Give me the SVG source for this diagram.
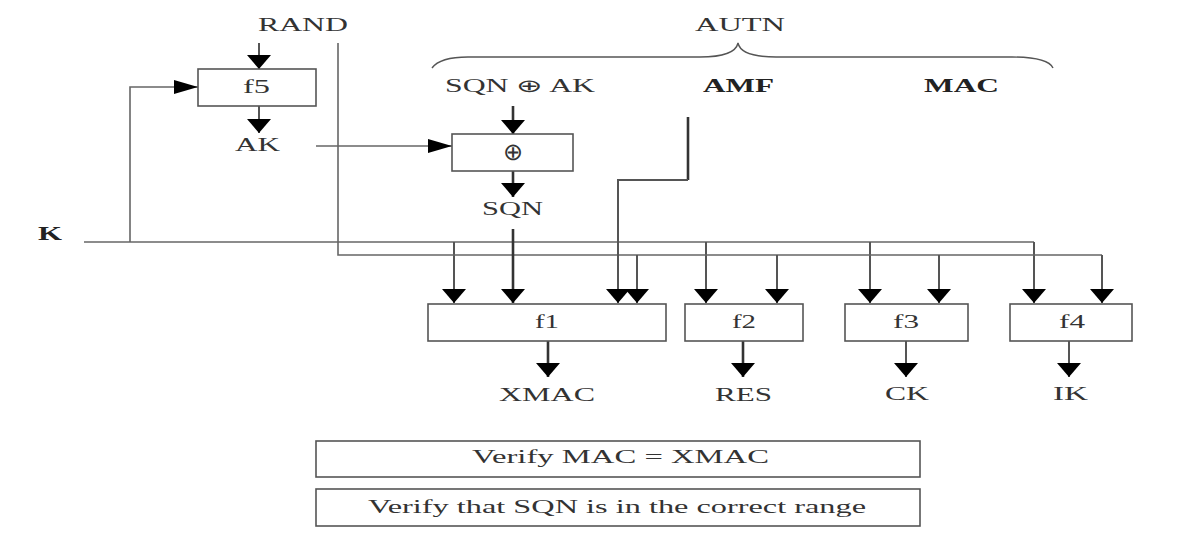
<svg xmlns="http://www.w3.org/2000/svg" width="1179" height="537" viewBox="0 0 1179 537">
<style>
  text { font-family: "Liberation Serif", "Times New Roman", serif; font-size: 18px; fill: #333; }
  .b { font-weight: bold; fill: #222; }
  .sym { font-size: 24px; }
  .box { fill: #fff; stroke: #555; stroke-width: 1.6; }
  .ln { fill: none; stroke: #666; stroke-width: 1.6; }
  .lv { fill: none; stroke: #555; stroke-width: 2; }
  .lt { fill: none; stroke: #333; stroke-width: 2.6; }
  .brace { fill: none; stroke: #555; stroke-width: 1.4; }
</style>
<defs>
  <marker id="ad" markerUnits="userSpaceOnUse" markerWidth="14" markerHeight="24" refX="14" refY="12" orient="auto" viewBox="0 0 14 24">
    <path d="M0,0 L14,12 L0,24 Z" fill="#000"/>
  </marker>
  <marker id="ar" markerUnits="userSpaceOnUse" markerWidth="24" markerHeight="14" refX="24" refY="7" orient="auto" viewBox="0 0 24 14">
    <path d="M0,0 L24,7 L0,14 Z" fill="#000"/>
  </marker>
</defs>
<rect width="1179" height="537" fill="#fff"/>

<g id="connectors">
  <path class="brace" d="M432,68 Q440,57 468,57 H700 Q735,57 738,43 Q741,57 776,57 H1012 Q1048,57 1053,68"/>
  <path class="lv" d="M259,43 V69" marker-end="url(#ad)"/>
  <path class="lv" d="M259,106 V133" marker-end="url(#ad)"/>
  <path class="ln" d="M84,242 H1034"/>
  <path class="ln" d="M130,242 V87 H198" marker-end="url(#ar)"/>
  <path class="lv" d="M454,242 V303" marker-end="url(#ad)"/>
  <path class="lv" d="M706,242 V303" marker-end="url(#ad)"/>
  <path class="lv" d="M870,242 V303" marker-end="url(#ad)"/>
  <path class="lv" d="M1034,242 V303" marker-end="url(#ad)"/>
  <path class="ln" d="M338,43 V255 H1102"/>
  <path class="lv" d="M637,255 V303" marker-end="url(#ad)"/>
  <path class="lv" d="M777,255 V303" marker-end="url(#ad)"/>
  <path class="lv" d="M939,255 V303" marker-end="url(#ad)"/>
  <path class="lv" d="M1102,255 V303" marker-end="url(#ad)"/>
  <path class="ln" d="M316,146 H452" marker-end="url(#ar)"/>
  <path class="lt" d="M513,106 V134" marker-end="url(#ad)"/>
  <path class="lt" d="M513,171 V197" marker-end="url(#ad)"/>
  <path class="lt" d="M513,229 V303" marker-end="url(#ad)"/>
  <path class="lt" d="M688,117 V180"/>
  <path class="lv" d="M688,180 H618 V303" marker-end="url(#ad)"/>
  <path class="lt" d="M548,341 V377" marker-end="url(#ad)"/>
  <path class="lt" d="M743,341 V377" marker-end="url(#ad)"/>
  <path class="lv" d="M906,341 V377" marker-end="url(#ad)"/>
  <path class="lv" d="M1069,341 V377" marker-end="url(#ad)"/>
</g>

<g id="labels">
  <text x="258" y="31" textLength="90" lengthAdjust="spacingAndGlyphs">RAND</text>
  <text x="695" y="31" textLength="90" lengthAdjust="spacingAndGlyphs">AUTN</text>
  <text x="445" y="92" textLength="150" lengthAdjust="spacingAndGlyphs">SQN ⊕ AK</text>
  <text class="b" x="703" y="92" textLength="71" lengthAdjust="spacingAndGlyphs">AMF</text>
  <text class="b" x="924" y="92" textLength="75" lengthAdjust="spacingAndGlyphs">MAC</text>
  <text x="235" y="151" textLength="45" lengthAdjust="spacingAndGlyphs">AK</text>
  <text x="482" y="215" textLength="61" lengthAdjust="spacingAndGlyphs">SQN</text>
  <text class="b" x="38" y="240" textLength="24" lengthAdjust="spacingAndGlyphs">K</text>
  <text x="499" y="401" textLength="96" lengthAdjust="spacingAndGlyphs">XMAC</text>
  <text x="715" y="401" textLength="57" lengthAdjust="spacingAndGlyphs">RES</text>
  <text x="885" y="400" textLength="44" lengthAdjust="spacingAndGlyphs">CK</text>
  <text x="1053" y="400" textLength="35" lengthAdjust="spacingAndGlyphs">IK</text>
</g>

<g id="f5">
  <rect class="box" x="198" y="69" width="118" height="37"/>
  <text x="243" y="93" textLength="27" lengthAdjust="spacingAndGlyphs">f5</text>
</g>
<g id="xor">
  <rect class="box" x="452" y="134" width="121" height="37"/>
  <text class="sym" x="513" y="160" text-anchor="middle">⊕</text>
</g>
<g id="f1">
  <rect class="box" x="428" y="304" width="238" height="37"/>
  <text x="535" y="328" textLength="24" lengthAdjust="spacingAndGlyphs">f1</text>
</g>
<g id="f2">
  <rect class="box" x="685" y="304" width="118" height="37"/>
  <text x="732" y="328" textLength="24" lengthAdjust="spacingAndGlyphs">f2</text>
</g>
<g id="f3">
  <rect class="box" x="845" y="304" width="123" height="37"/>
  <text x="893" y="328" textLength="26" lengthAdjust="spacingAndGlyphs">f3</text>
</g>
<g id="f4">
  <rect class="box" x="1010" y="304" width="122" height="37"/>
  <text x="1059" y="328" textLength="26" lengthAdjust="spacingAndGlyphs">f4</text>
</g>
<g id="verify-mac">
  <rect class="box" x="316" y="441" width="604" height="36"/>
  <text x="472" y="463" textLength="297" lengthAdjust="spacingAndGlyphs">Verify MAC = XMAC</text>
</g>
<g id="verify-sqn">
  <rect class="box" x="316" y="489" width="604" height="37"/>
  <text x="368" y="513" textLength="498" lengthAdjust="spacingAndGlyphs">Verify that SQN is in the correct range</text>
</g>
</svg>
